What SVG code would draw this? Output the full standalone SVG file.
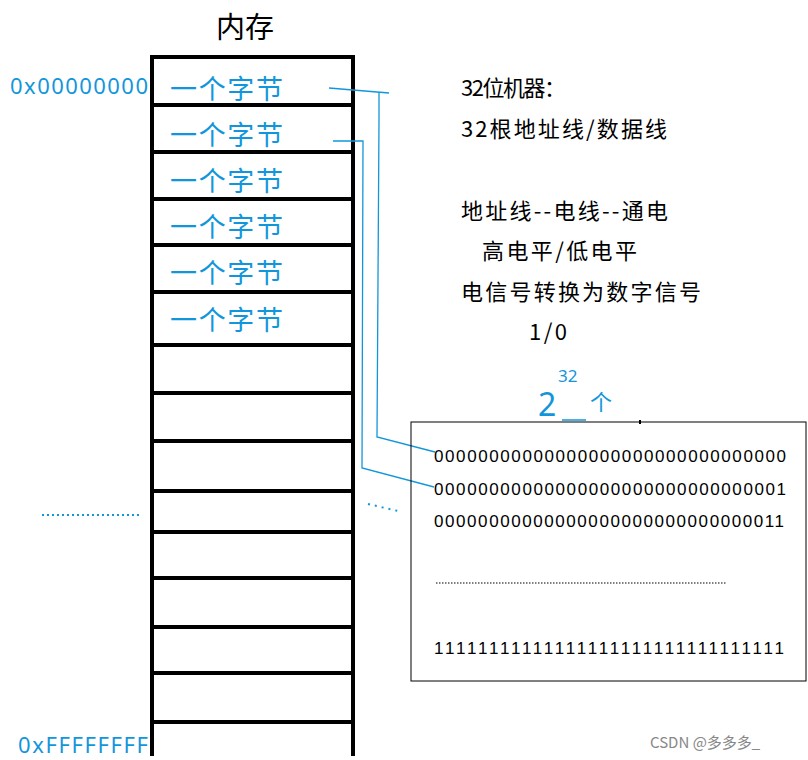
<svg xmlns="http://www.w3.org/2000/svg" width="808" height="760" viewBox="0 0 808 760">
<style>
.h{stroke:#000;stroke-width:4}
.b{fill:#1296db;font-family:"Noto Sans CJK SC","Noto Sans",sans-serif;font-size:27px}
.t{fill:#000;font-family:"Noto Sans CJK SC","Noto Sans",sans-serif;font-size:22px}
.n{fill:#000;font-family:"Liberation Sans",sans-serif;font-size:17px}
.c{stroke:#1296db;stroke-width:1.3;fill:none}
</style>
<rect width="808" height="760" fill="#fff"/>
<text x="245" y="38" class="t" text-anchor="middle" style="font-size:29px">内存</text>
<g id="memory">
<line class="h" x1="152" y1="55" x2="152" y2="756"/>
<line class="h" x1="353" y1="55" x2="353" y2="756"/>
<g class="h">
<line x1="150" y1="57" x2="355" y2="57"/><line x1="150" y1="105" x2="355" y2="105"/>
<line x1="150" y1="152" x2="355" y2="152"/><line x1="150" y1="199" x2="355" y2="199"/>
<line x1="150" y1="245" x2="355" y2="245"/><line x1="150" y1="292" x2="355" y2="292"/>
<line x1="150" y1="345" x2="355" y2="345"/><line x1="150" y1="393" x2="355" y2="393"/>
<line x1="150" y1="441" x2="355" y2="441"/><line x1="150" y1="491" x2="355" y2="491"/>
<line x1="150" y1="532" x2="355" y2="532"/><line x1="150" y1="578" x2="355" y2="578"/>
<line x1="150" y1="627" x2="355" y2="627"/><line x1="150" y1="673" x2="355" y2="673"/>
<line x1="150" y1="722" x2="355" y2="722"/>
</g>
<text x="170" y="99" class="b" textLength="113">一个字节</text>
<text x="170" y="145" class="b" textLength="113">一个字节</text>
<text x="170" y="191" class="b" textLength="113">一个字节</text>
<text x="170" y="237" class="b" textLength="113">一个字节</text>
<text x="170" y="283" class="b" textLength="113">一个字节</text>
<text x="170" y="330" class="b" textLength="113">一个字节</text>
</g>
<text x="10" y="94" class="b" style="font-family:'Noto Sans',sans-serif;font-size:22px" textLength="138">0x00000000</text>
<text x="18" y="753" class="b" style="font-family:'Noto Sans',sans-serif;font-size:22px" textLength="130">0xFFFFFFFF</text>
<line x1="42" y1="515" x2="140" y2="515" stroke="#1296db" stroke-width="2" stroke-dasharray="2,3"/>
<line x1="368" y1="504" x2="398" y2="511" stroke="#1296db" stroke-width="2" stroke-dasharray="2,5"/>
<g id="connectors">
<polyline class="c" points="329,88 389,93"/>
<polyline class="c" points="379,92 379,120 377,437 435,452"/>
<polyline class="c" points="333,141 363,141 362,468 434,487"/>
</g>
<g id="notes">
<text x="461" y="96" class="t" textLength="105">32位机器：</text>
<text x="461" y="137" class="t" textLength="206">32根地址线/数据线</text>
<text x="461" y="219" class="t" textLength="207">地址线--电线--通电</text>
<text x="482" y="259" class="t" textLength="155">高电平/低电平</text>
<text x="461" y="300" class="t" textLength="240">电信号转换为数字信号</text>
<text x="529" y="340" class="t" textLength="38">1/0</text>
<text x="538" y="416" class="b" style="font-family:'Noto Sans',sans-serif;font-size:32px">2</text>
<text x="558" y="382" class="b" style="font-family:'Noto Sans',sans-serif;font-size:17px">32</text>
<line x1="562" y1="420" x2="586" y2="420" stroke="#1296db" stroke-width="1.5"/>
<text x="590" y="410" class="b" style="font-size:22px">个</text>
</g>
<g id="binary">
<rect x="411" y="422" width="395" height="259" fill="none" stroke="#000" stroke-width="1"/>
<rect x="639" y="420" width="2" height="4" fill="#000"/>
<text x="434" y="462" class="n" textLength="352">00000000000000000000000000000000</text>
<text x="434" y="495" class="n" textLength="352">00000000000000000000000000000001</text>
<text x="434" y="527" class="n" textLength="350">00000000000000000000000000000011</text>
<line x1="436" y1="583" x2="726" y2="583" stroke="#000" stroke-width="1" stroke-dasharray="1.5,1.5"/>
<text x="434" y="654" class="n" textLength="350">11111111111111111111111111111111</text>
</g>
<text x="650" y="748" fill="#888" style="font-family:'Noto Sans CJK SC',sans-serif;font-size:15px">CSDN @多多多_</text>
</svg>
